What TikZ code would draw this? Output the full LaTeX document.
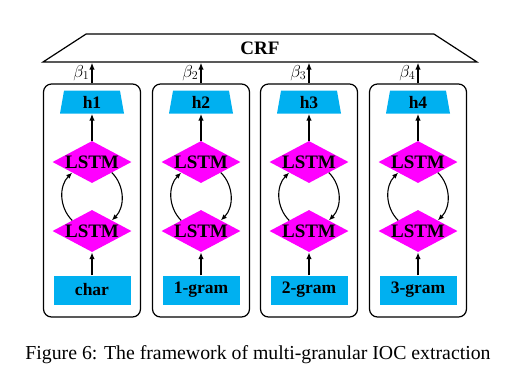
\documentclass[tikz,border=0pt]{standalone}
\usepackage{fontspec}
\setmainfont{Liberation Serif}
\usepackage{amsmath}
\usetikzlibrary{shapes.geometric,arrows.meta}
\definecolor{hcyan}{HTML}{00B0F0}
\definecolor{lmagenta}{HTML}{FF00FF}

\begin{document}
\begin{tikzpicture}[x=1pt,y=1pt,
  lbl/.style={font=\fontsize{17.5}{20}\selectfont\bfseries},
  gran/.style={lbl,rectangle,fill=hcyan,minimum width=77pt,minimum height=29pt,inner sep=0pt},
  lstm/.style={lbl,font=\fontsize{19}{22}\selectfont\bfseries,diamond,shape aspect=1.88,fill=lmagenta,
    minimum width=79pt,minimum height=42pt,inner sep=0pt},
  hid/.style={lbl,trapezium,trapezium angle=80,trapezium stretches body=true,fill=hcyan,
    minimum width=64pt,inner xsep=0pt,inner ysep=5.5pt,text height=12pt,text depth=0pt},
  colbox/.style={draw,line width=1.2pt,rounded corners=8pt,minimum width=97pt,minimum height=233pt},
  arr/.style={-{Latex[length=7pt,width=5.5pt]},line width=1.4pt},
  cyc/.style={-{Latex[length=6pt,width=5pt]},line width=1.1pt}]
\useasboundingbox (0,0) rectangle (518,-384);
% crf layer
\node[lbl,font=\fontsize{19}{22}\selectfont\bfseries,trapezium,trapezium angle=33,trapezium stretches body=true,
  draw,line width=1.2pt,minimum width=434pt,inner xsep=0pt,inner ysep=7.5pt,text height=13pt,text depth=0pt]
  (crf) at (260,-48) {CRF};
% one column per granularity
\foreach \x/\g/\i in {92/char/1,201/1-gram/2,309/2-gram/3,418/3-gram/4}{
  \node[colbox] (box\i) at (\x,-200.5) {};
  \node[hid] (h\i) at (\x,-102) {h\i};
  \node[lstm] (up\i) at (\x,-162) {LSTM};
  \node[lstm] (lo\i) at (\x,-231) {LSTM};
  \node[gran] (in\i) at (\x,-290) {\g};
  \draw[arr] (in\i) -- (lo\i);
  \draw[arr] (up\i) -- (h\i);
  \draw[cyc] (lo\i.north west) to[out=135,in=225] (up\i.south west);
  \draw[cyc] (up\i.south east) to[out=-45,in=45] (lo\i.north east);
  \draw[arr] (box\i.north) -- (box\i.north |- crf.south)
    node[midway,left,inner sep=2pt,font=\fontsize{18}{20}\selectfont] {$\beta_\i$};
}
\node[font=\fontsize{19.8}{23}\selectfont] (cap) at (258,-355) {Figure 6: The framework of multi-granular IOC extraction};
\end{tikzpicture}
\end{document}
